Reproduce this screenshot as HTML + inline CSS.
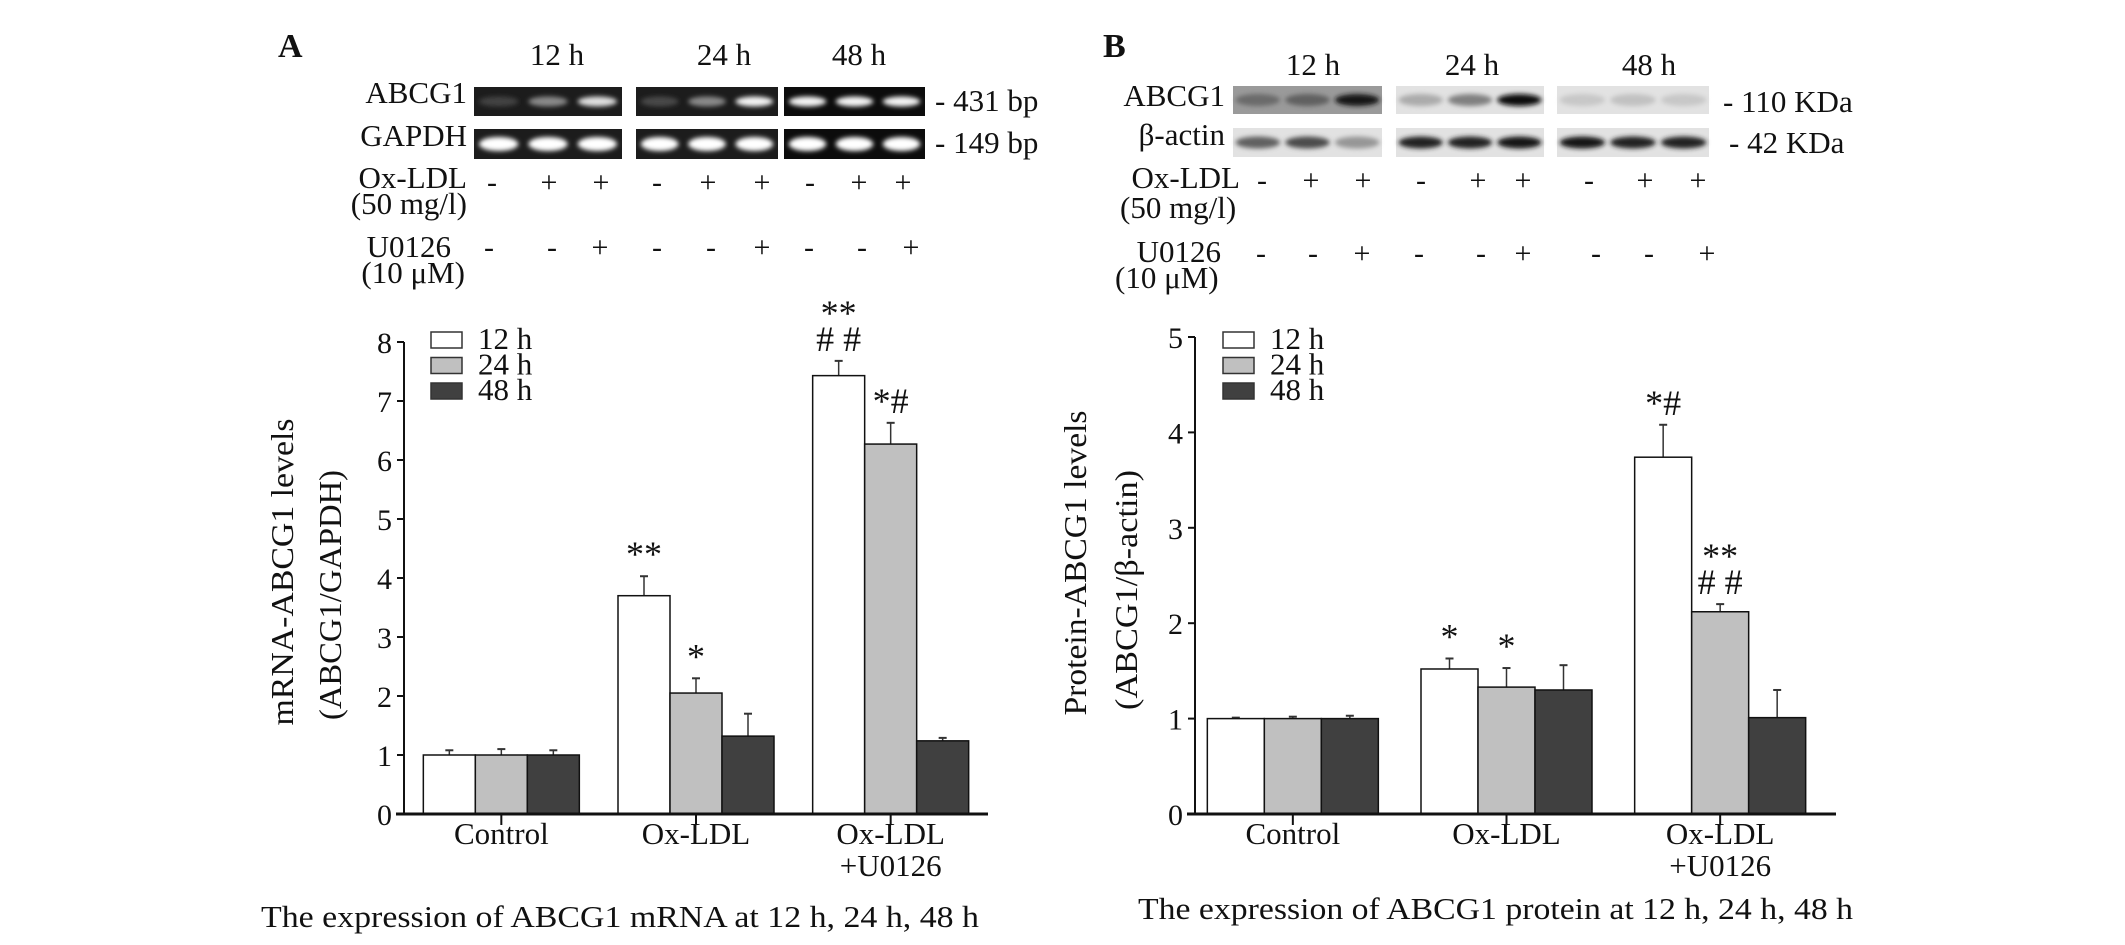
<!DOCTYPE html>
<html><head><meta charset="utf-8">
<style>
html,body{margin:0;padding:0;background:#fff;}
svg{display:block;}
text{font-family:"Liberation Serif",serif;fill:#111;}
</style></head>
<body>
<svg id="fig" width="2125" height="945" viewBox="0 0 2125 945" xmlns="http://www.w3.org/2000/svg">
<defs>
<filter id="blur3" x="-20%" y="-80%" width="140%" height="260%"><feGaussianBlur stdDeviation="2.5"/></filter>
</defs>
<g id="static">
<text x="278" y="57" font-size="34" font-weight="bold">A</text>
<text x="557" y="65" font-size="31" text-anchor="middle">12 h</text>
<text x="724" y="65" font-size="31" text-anchor="middle">24 h</text>
<text x="859" y="65" font-size="31" text-anchor="middle">48 h</text>
<text x="467" y="103" font-size="31" text-anchor="end">ABCG1</text>
<text x="467" y="146" font-size="31" text-anchor="end">GAPDH</text>
<text x="935" y="111" font-size="31">- 431 bp</text>
<text x="935" y="153" font-size="31">- 149 bp</text>
<text x="467" y="188" font-size="31" text-anchor="end">Ox-LDL</text>
<text x="467" y="214" font-size="31" text-anchor="end">(50 mg/l)</text>
<text x="451" y="257" font-size="31" text-anchor="end">U0126</text>
<text x="465" y="283" font-size="31" text-anchor="end">(10 μM)</text>

<text x="1103" y="57" font-size="34" font-weight="bold">B</text>
<text x="1313" y="75" font-size="31" text-anchor="middle">12 h</text>
<text x="1472" y="75" font-size="31" text-anchor="middle">24 h</text>
<text x="1649" y="75" font-size="31" text-anchor="middle">48 h</text>
<text x="1225" y="106" font-size="31" text-anchor="end">ABCG1</text>
<text x="1225" y="145" font-size="31" text-anchor="end">β-actin</text>
<text x="1723" y="112" font-size="31">- 110 KDa</text>
<text x="1729" y="153" font-size="31">- 42 KDa</text>
<text x="1240" y="188" font-size="31" text-anchor="end">Ox-LDL</text>
<text x="1120" y="218" font-size="31">(50 mg/l)</text>
<text x="1221" y="262" font-size="31" text-anchor="end">U0126</text>
<text x="1115" y="288" font-size="31">(10 μM)</text>

<text x="261" y="927" font-size="31" textLength="718" lengthAdjust="spacingAndGlyphs">The expression of ABCG1 mRNA at 12 h, 24 h, 48 h</text>
<text x="1138" y="919" font-size="31" textLength="715" lengthAdjust="spacingAndGlyphs">The expression of ABCG1 protein at 12 h, 24 h, 48 h</text>

<text transform="translate(293,572) rotate(-90)" font-size="32" text-anchor="middle" textLength="307" lengthAdjust="spacingAndGlyphs">mRNA-ABCG1 levels</text>
<text transform="translate(341,595) rotate(-90)" font-size="32" text-anchor="middle" textLength="250" lengthAdjust="spacingAndGlyphs">(ABCG1/GAPDH)</text>
<text transform="translate(1086,563) rotate(-90)" font-size="32" text-anchor="middle" textLength="305" lengthAdjust="spacingAndGlyphs">Protein-ABCG1 levels</text>
<text transform="translate(1137,590) rotate(-90)" font-size="32" text-anchor="middle" textLength="240" lengthAdjust="spacingAndGlyphs">(ABCG1/β-actin)</text>
</g>
<g id="dyn"></g>
</svg>
<script>
const categories = ["Control", "Ox-LDL", "Ox-LDL+U0126"];
const seriesNames = ["12 h", "24 h", "48 h"];
const mrna12 = [1.0, 3.7, 7.43];
const mrna24 = [1.0, 2.05, 6.27];
const mrna48 = [1.0, 1.32, 1.24];
const mrnaErr12 = [0.08, 0.33, 0.25];
const mrnaErr24 = [0.1, 0.25, 0.36];
const mrnaErr48 = [0.08, 0.38, 0.05];
const mrnaTicks = [0, 1, 2, 3, 4, 5, 6, 7, 8];
const prot12 = [1.0, 1.52, 3.74];
const prot24 = [1.0, 1.33, 2.12];
const prot48 = [1.0, 1.3, 1.01];
const protErr12 = [0.01, 0.11, 0.34];
const protErr24 = [0.02, 0.2, 0.08];
const protErr48 = [0.03, 0.26, 0.29];
const protTicks = [0, 1, 2, 3, 4, 5];
const mrnaMarks = [["", "**", "**\n# #"], ["", "*", "*#"], ["", "", ""]];
const protMarks = [["", "*", "*#"], ["", "*", "**\n# #"], ["", "", ""]];
const oxSigns = ["-", "+", "+", "-", "+", "+", "-", "+", "+"];
const uSigns = ["-", "-", "+", "-", "-", "+", "-", "-", "+"];
const gelTop = [0.12, 0.45, 0.85, 0.15, 0.45, 0.95, 0.95, 0.95, 0.95];
const gelBottom = [1, 1, 1, 1, 1, 1, 1, 1, 1];
const blotTop = [0.55, 0.6, 0.95, 0.25, 0.45, 1.0, 0.12, 0.15, 0.12];
const blotBottom = [0.6, 0.7, 0.35, 0.9, 0.9, 0.95, 0.95, 0.9, 0.9];

const NS = "http://www.w3.org/2000/svg";
const dyn = document.getElementById("dyn");
function mk(tag, attrs, parent) {
  const e = document.createElementNS(NS, tag);
  for (const k in attrs) e.setAttribute(k, attrs[k]);
  (parent || dyn).appendChild(e);
  return e;
}
const fills = ["#ffffff", "#c0c0c0", "#404040"];

function chart(cfg) {
  const g = mk("g", {});
  
  
  const yMax = cfg.ticks[cfg.ticks.length - 1];
  const y = v => cfg.y0 - (v / yMax) * (cfg.y0 - cfg.yTop);
  const gw = (cfg.x1 - cfg.x0) / categories.length;
  const bw = cfg.bw;
  const series = [cfg.s12, cfg.s24, cfg.s48];
  const errs = [cfg.e12, cfg.e24, cfg.e48];
  categories.forEach((c, ci) => {
    const cx = cfg.x0 + gw * (ci + 0.5) + cfg.shift;
    series.forEach((s, si) => {
      const bx = cx - 1.5 * bw + si * bw;
      const v = s[ci];
      const top = y(v + errs[si][ci]);
      const el = mk("line", {x1: bx + bw / 2, x2: bx + bw / 2, y1: y(v), y2: top, stroke: "#333", "stroke-width": 1.5}, g);
      
      
      const cap = mk("line", {x1: bx + bw / 2 - 4, x2: bx + bw / 2 + 4, y1: top, y2: top, stroke: "#333", "stroke-width": 2}, g);
      
      
      const r = mk("rect", {x: bx, y: y(v), width: bw, height: cfg.y0 - y(v), fill: fills[si], stroke: "#111", "stroke-width": 1.5}, g);
      
      
      const m = cfg.marks[si][ci];
      if (m) {
        const lines = m.split("\n");
        lines.forEach((ln, li) => {
          const t = mk("text", {x: bx + bw / 2, y: top - 10 - (lines.length - 1 - li) * 26, "font-size": 36, "text-anchor": "middle"}, g);
          t.textContent = ln;
          
          
        });
      }
    });
    const tk = mk("line", {x1: cx, x2: cx, y1: cfg.y0, y2: cfg.y0 + 11, stroke: "#111", "stroke-width": 2}, g);
    
    
    const parts = c === "Ox-LDL+U0126" ? ["Ox-LDL", "+U0126"] : [c];
    parts.forEach((p, pi) => {
      const t = mk("text", {x: cx, y: 844 + pi * 32, "font-size": 31, "text-anchor": "middle"}, g);
      t.textContent = p;
      
      
    });
  });
  const ya = mk("line", {x1: cfg.x0, x2: cfg.x0, y1: cfg.yTop, y2: cfg.y0, stroke: "#111", "stroke-width": 2}, g);
  
  
  const xa = mk("line", {x1: cfg.x0 - 8, x2: cfg.x1, y1: cfg.y0, y2: cfg.y0, stroke: "#111", "stroke-width": 3}, g);
  
  
  cfg.ticks.forEach(tv => {
    const ty = y(tv);
    const l = mk("line", {x1: cfg.x0 - 7, x2: cfg.x0, y1: ty, y2: ty, stroke: "#111", "stroke-width": 2}, g);
    
    
    const t = mk("text", {x: cfg.x0 - 12, y: ty + 11, "font-size": 30, "text-anchor": "end"}, g);
    t.textContent = tv;
    
    
  });
  seriesNames.forEach((n, i) => {
    const ly = 332 + i * 25.5;
    const r = mk("rect", {x: cfg.legX, y: ly, width: 31, height: 16, fill: fills[i], stroke: "#333", "stroke-width": 1.5}, g);
    
    
    const t = mk("text", {x: cfg.legX + 47, y: ly + 17, "font-size": 31}, g);
    t.textContent = n;
    
    
  });
}

chart({name: "mrna-chart", x0: 404, x1: 988, y0: 814, yTop: 342, bw: 52, shift: 0,
  ticks: mrnaTicks, s12: mrna12, s24: mrna24, s48: mrna48, e12: mrnaErr12, e24: mrnaErr24, e48: mrnaErr48,
  marks: mrnaMarks, legX: 431});
chart({name: "protein-chart", x0: 1195, x1: 1836, y0: 814, yTop: 337, bw: 57, shift: -9,
  ticks: protTicks, s12: prot12, s24: prot24, s48: prot48, e12: protErr12, e24: protErr24, e48: protErr48,
  marks: protMarks, legX: 1223});

const gelPanels = [[474, 622], [636, 778], [784, 925]];
const gelRows = [[87, 116, gelTop], [129, 159, gelBottom]];
gelRows.forEach((row, ri) => {
  gelPanels.forEach((p, pi) => {
    const r = mk("rect", {x: p[0], y: row[0], width: p[1] - p[0], height: row[1] - row[0], fill: pi === 2 ? "#0c0c0c" : "#1c1c1c"});
    
    
    for (let l = 0; l < 3; l++) {
      const k = pi * 3 + l;
      const w = (p[1] - p[0]) / 3;
      const cx = p[0] + w * (l + 0.5);
      const v = row[2][k];
      const c = Math.round(40 + 215 * v);
      const b = mk("ellipse", {cx: cx, cy: (row[0] + row[1]) / 2, rx: w * 0.4, ry: ri ? 7 : 5, fill: `rgb(${c},${c},${c})`, filter: "url(#blur3)"});
      
      
    }
  });
});
const blotPanels = [[1233, 1382], [1396, 1544], [1557, 1709]];
const blotRows = [[86, 114, blotTop], [128, 157, blotBottom]];
blotRows.forEach((row, ri) => {
  blotPanels.forEach((p, pi) => {
    const r = mk("rect", {x: p[0], y: row[0], width: p[1] - p[0], height: row[1] - row[0], fill: pi === 0 && ri === 0 ? "#9a9a9a" : "#e2e2e2"});
    
    
    for (let l = 0; l < 3; l++) {
      const k = pi * 3 + l;
      const w = (p[1] - p[0]) / 3;
      const cx = p[0] + w * (l + 0.5);
      const v = row[2][k];
      const c = Math.round(225 - 215 * v);
      const b = mk("ellipse", {cx: cx, cy: (row[0] + row[1]) / 2, rx: w * 0.45, ry: 6, fill: `rgb(${c},${c},${c})`, filter: "url(#blur3)"});
      
      
    }
  });
});
const oxXA = [492, 549, 601, 657, 708, 762, 810, 859, 903];
const uXA = [489, 552, 600, 657, 711, 762, 809, 862, 911];
const oxXB = [1262, 1311, 1363, 1421, 1478, 1523, 1589, 1645, 1698];
const uXB = [1261, 1313, 1362, 1419, 1481, 1523, 1596, 1649, 1707];
function signs(xs, arr, yy) {
  arr.forEach((s, i) => {
    const t = mk("text", {x: xs[i], y: yy, "font-size": 30, "text-anchor": "middle"});
    t.textContent = s;
    
    
  });
}
signs(oxXA, oxSigns, 192);
signs(uXA, uSigns, 257);
signs(oxXB, oxSigns, 190);
signs(uXB, uSigns, 263);
</script>
</body></html>
